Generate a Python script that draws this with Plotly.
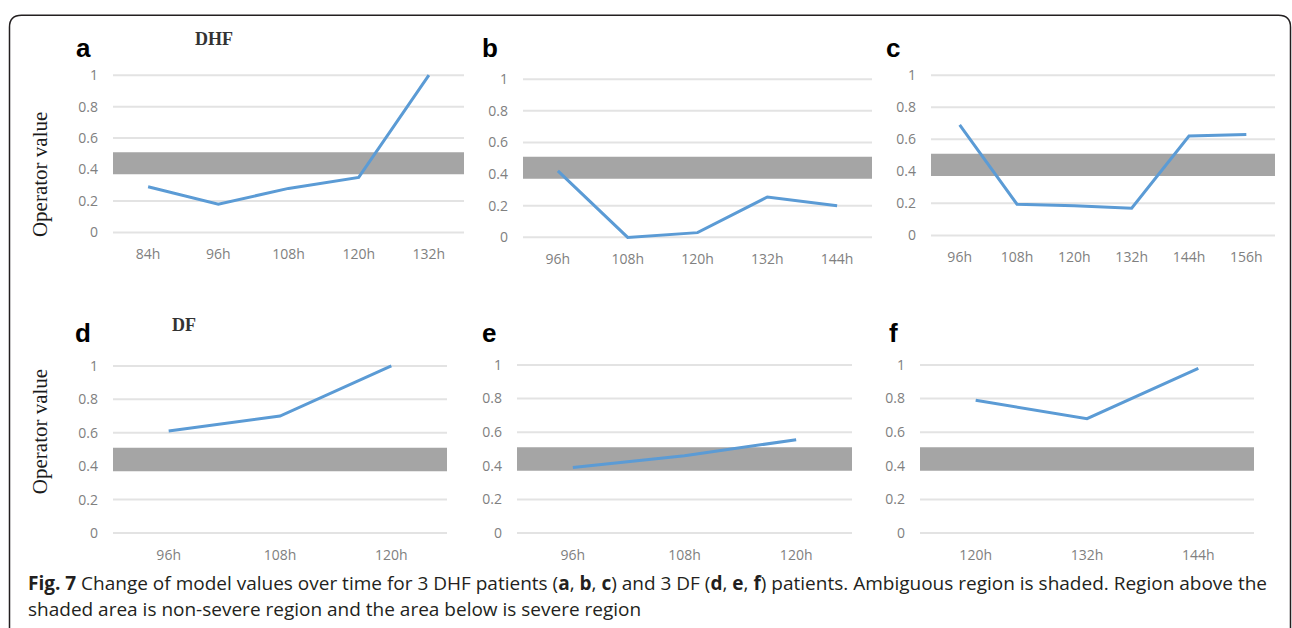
import plotly.graph_objects as go

# Operator values per patient over time
a_hours = ["84h", "96h", "108h", "120h", "132h"]
a_vals = [0.29, 0.18, 0.28, 0.35, 1.0]
b_hours = ["96h", "108h", "120h", "132h", "144h"]
b_vals = [0.42, 0.0, 0.03, 0.255, 0.20]
c_hours = ["96h", "108h", "120h", "132h", "144h", "156h"]
c_vals = [0.69, 0.195, 0.185, 0.17, 0.62, 0.63]
d_hours = ["96h", "108h", "120h"]
d_vals = [0.61, 0.70, 1.0]
e_hours = ["96h", "108h", "120h"]
e_vals = [0.39, 0.46, 0.555]
f_hours = ["120h", "132h", "144h"]
f_vals = [0.79, 0.68, 0.98]

# Ambiguous region bounds
band_low = 0.37
band_high = 0.51

y_ticks = [0, 0.2, 0.4, 0.6, 0.8, 1]
y_tick_text = ["0", "0.2", "0.4", "0.6", "0.8", "1"]

W, H = 1292, 628
LO, HI = -0.04, 1.04

# panel: letter, hours, values, left px, right px, px of y=0, px of y=1
panels = [
    ("a", a_hours, a_vals, 113, 464, 231, 72),
    ("b", b_hours, b_vals, 523, 872, 236, 76),
    ("c", c_hours, c_vals, 931, 1275, 234, 72),
    ("d", d_hours, d_vals, 113, 447, 535, 366),
    ("e", e_hours, e_vals, 517, 852, 535, 365),
    ("f", f_hours, f_vals, 920, 1254, 535, 365),
]

LINE = "#5b9bd5"
BAND = "#a5a5a5"
GRID = "#e3e3e3"
TICK = dict(family="Open Sans", size=14, color="#808080")

fig = go.Figure()
shapes = []
annotations = []

for i, (letter, hours, vals, left, right, y0, y1) in enumerate(panels):
    n = "" if i == 0 else str(i + 1)
    unit = y0 - y1
    top = y1 - (HI - 1) * unit
    bottom = y0 - LO * unit
    fig.add_trace(go.Scatter(
        x=hours, y=vals, mode="lines",
        line=dict(color=LINE, width=3),
        xaxis="x" + n, yaxis="y" + n, showlegend=False, hoverinfo="skip",
    ))
    fig.layout["xaxis" + n] = dict(
        domain=[left / W, right / W], anchor="y" + n, type="category",
        range=[-0.5, len(hours) - 0.5], showgrid=False, showline=False,
        zeroline=False, ticks="", tickfont=TICK, ticklabelstandoff=5,
        fixedrange=True,
    )
    fig.layout["yaxis" + n] = dict(
        domain=[1 - bottom / H, 1 - top / H], anchor="x" + n,
        range=[LO, HI], tickvals=y_ticks, ticktext=y_tick_text,
        showgrid=False, zeroline=False,
        showline=False, ticks="", tickfont=TICK, ticklabelstandoff=14,
        fixedrange=True,
    )
    # horizontal gridlines, then the shaded ambiguous band on top of them
    for v in y_ticks:
        shapes.append(dict(
            type="line", xref="x" + n + " domain", yref="y" + n,
            x0=0, x1=1, y0=v, y1=v, line=dict(color=GRID, width=2),
            layer="below",
        ))
    shapes.append(dict(
        type="rect", xref="x" + n + " domain", yref="y" + n,
        x0=0, x1=1, y0=band_low, y1=band_high,
        fillcolor=BAND, line=dict(width=0), layer="below",
    ))

# panel letters
letter_pos = {"a": (83, 53), "b": (490, 53), "c": (893, 53),
              "d": (83, 342), "e": (489, 342), "f": (893, 342)}
for letter, (px, base) in letter_pos.items():
    annotations.append(dict(
        text=letter, x=px / W, y=1 - (base - 9) / H, xref="paper", yref="paper",
        xanchor="center", yanchor="middle", showarrow=False,
        font=dict(family="Liberation Sans", size=26, color="#000000", weight="bold"),
    ))

# group labels
SERIF = dict(family="Liberation Serif", size=18, color="#333333", weight="bold")
annotations.append(dict(text="DHF", x=214 / W, y=1 - 35 / H, xref="paper", yref="paper",
                        showarrow=False, xanchor="center", yanchor="middle", font=SERIF))
annotations.append(dict(text="DF", x=184 / W, y=1 - 325 / H, xref="paper", yref="paper",
                        showarrow=False, xanchor="center", yanchor="middle", font=SERIF))

# y-axis titles
for cy in (173, 433):
    annotations.append(dict(
        text="Operator value", x=40 / W, y=1 - cy / H, xref="paper", yref="paper",
        showarrow=False, textangle=-90, xanchor="center", yanchor="middle",
        font=dict(family="Liberation Serif", size=21, color="#1a1a1a"),
    ))

# caption
CAP = dict(family="Open Sans", size=19, color="#231f20")
line1 = ("<b>Fig. 7</b> Change of model values over time for 3 DHF patients "
         "(<b>a</b>, <b>b</b>, <b>c</b>) and 3 DF (<b>d</b>, <b>e</b>, <b>f</b>) patients. "
         "Ambiguous region is shaded. Region above the")
line2 = "shaded area is non-severe region and the area below is severe region"
annotations.append(dict(text=line1, x=26 / W, y=1 - 586 / H, xref="paper", yref="paper",
                        showarrow=False, xanchor="left", yanchor="middle", font=CAP))
annotations.append(dict(text=line2, x=26 / W, y=1 - 612 / H, xref="paper", yref="paper",
                        showarrow=False, xanchor="left", yanchor="middle", font=CAP))

# rounded frame around the figure (open at the bottom)
def p(x, y):
    return f"{x / W:.6f},{1 - y / H:.6f}"

L, T, R, B, r = 9.5, 11.5, 1290.5, 700, 12
frame = (f"M {p(L, B)} L {p(L, T + r)} Q {p(L, T)} {p(L + r, T)} "
         f"L {p(R - r, T)} Q {p(R, T)} {p(R, T + r)} L {p(R, B)}")
shapes.append(dict(type="path", xref="paper", yref="paper", path=frame,
                   line=dict(color="#231f20", width=1.5)))

fig.update_layout(
    width=W, height=H, margin=dict(l=0, r=0, t=0, b=0),
    paper_bgcolor="white", plot_bgcolor="white",
    shapes=shapes, annotations=annotations, showlegend=False,
)

fig.write_html("out.html")
